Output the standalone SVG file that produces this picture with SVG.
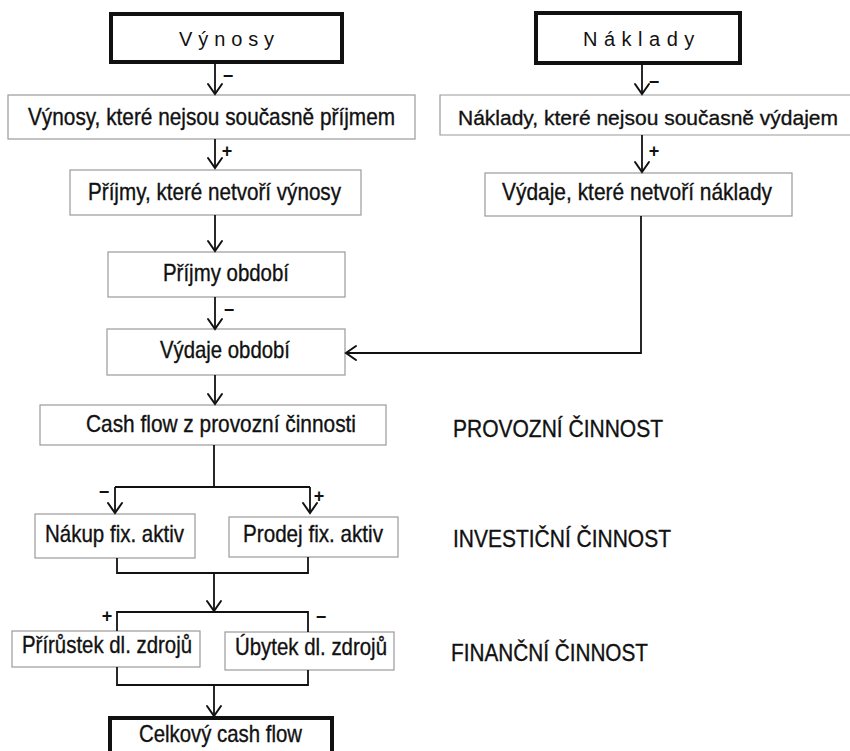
<svg xmlns="http://www.w3.org/2000/svg" width="850" height="751" viewBox="0 0 850 751">
  <defs>
    <style>
      .box { fill: #ffffff; stroke: #9a9a9a; stroke-width: 1.2; }
      .head { fill: #ffffff; stroke: #111111; stroke-width: 4; }
      .lbl { font-family: "Liberation Sans", Arial, sans-serif; font-size: 24px; fill: #111111; stroke: #111111; stroke-width: 0.35; }
      .lbl.edge { font-size: 21px; }
      .spaced { font-family: "Liberation Sans", Arial, sans-serif; font-size: 20px; fill: #111111; }
      .sign { font-family: "Liberation Sans", Arial, sans-serif; font-size: 18px; font-weight: bold; fill: #111111; text-anchor: middle; }
      .wire { fill: none; stroke: #111111; stroke-width: 1.8; }
      .tip { fill: none; stroke: #111111; stroke-width: 2; stroke-linecap: round; stroke-linejoin: miter; }
    </style>
  </defs>
  <rect width="850" height="751" fill="#ffffff"/>

  <!-- left column: revenues -->
  <g id="vynosy">
    <rect class="head" x="111" y="14" width="231" height="48"/>
    <text class="spaced" x="179" y="46" letter-spacing="5.9">Výnosy</text>
  </g>
  <g id="vynosy-neprijem">
    <rect class="box" x="8" y="95" width="407" height="44"/>
    <text class="lbl" x="28" y="125" textLength="367" lengthAdjust="spacingAndGlyphs">Výnosy, které nejsou současně příjmem</text>
  </g>
  <g id="prijmy-nevynosy">
    <rect class="box" x="70" y="170" width="291" height="45"/>
    <text class="lbl" x="88" y="200" textLength="253" lengthAdjust="spacingAndGlyphs">Příjmy, které netvoří výnosy</text>
  </g>
  <g id="prijmy-obdobi">
    <rect class="box" x="108" y="252" width="237" height="45"/>
    <text class="lbl" x="163" y="281" textLength="126" lengthAdjust="spacingAndGlyphs">Příjmy období</text>
  </g>
  <g id="vydaje-obdobi">
    <rect class="box" x="107" y="329" width="238" height="46"/>
    <text class="lbl" x="160" y="358" textLength="130" lengthAdjust="spacingAndGlyphs">Výdaje období</text>
  </g>
  <g id="cf-provozni">
    <rect class="box" x="40" y="405" width="346" height="40"/>
    <text class="lbl" x="86" y="432" textLength="270" lengthAdjust="spacingAndGlyphs">Cash flow z provozní činnosti</text>
  </g>
  <g id="nakup">
    <rect class="box" x="35" y="514" width="160" height="44"/>
    <text class="lbl" x="45" y="542" textLength="139" lengthAdjust="spacingAndGlyphs">Nákup fix. aktiv</text>
  </g>
  <g id="prodej">
    <rect class="box" x="229" y="517" width="169" height="40"/>
    <text class="lbl" x="243" y="542" textLength="140" lengthAdjust="spacingAndGlyphs">Prodej fix. aktiv</text>
  </g>
  <g id="prirustek">
    <rect class="box" x="12" y="631" width="188" height="36"/>
    <text class="lbl" x="22" y="653" textLength="170" lengthAdjust="spacingAndGlyphs">Přírůstek dl. zdrojů</text>
  </g>
  <g id="ubytek">
    <rect class="box" x="225" y="632" width="169" height="38"/>
    <text class="lbl" x="235" y="655" textLength="152" lengthAdjust="spacingAndGlyphs">Úbytek dl. zdrojů</text>
  </g>
  <g id="celkovy">
    <rect class="head" x="110" y="718" width="222" height="40"/>
    <text class="lbl" x="139" y="742" textLength="163" lengthAdjust="spacingAndGlyphs">Celkový cash flow</text>
  </g>

  <!-- right column: costs -->
  <g id="naklady">
    <rect class="head" x="536" y="13" width="204" height="50"/>
    <text class="spaced" x="583" y="46" letter-spacing="6.5">Náklady</text>
  </g>
  <g id="naklady-nevydaj">
    <!-- box runs off the right edge, so only three sides are drawn -->
    <path class="box" d="M850 95 H440 V135 H850"/>
    <text class="lbl edge" x="458" y="125" textLength="380" lengthAdjust="spacingAndGlyphs">Náklady, které nejsou současně výdajem</text>
  </g>
  <g id="vydaje-nenaklady">
    <rect class="box" x="485" y="173" width="307" height="43"/>
    <text class="lbl" x="502" y="200" textLength="270" lengthAdjust="spacingAndGlyphs">Výdaje, které netvoří náklady</text>
  </g>

  <!-- section captions -->
  <g id="sekce">
    <text class="lbl" x="453" y="437" textLength="210" lengthAdjust="spacingAndGlyphs">PROVOZNÍ ČINNOST</text>
    <text class="lbl" x="453" y="547" textLength="218" lengthAdjust="spacingAndGlyphs">INVESTIČNÍ ČINNOST</text>
    <text class="lbl" x="451" y="661" textLength="197" lengthAdjust="spacingAndGlyphs">FINANČNÍ ČINNOST</text>
  </g>

  <!-- connectors -->
  <g id="connectors">
    <!-- left column chain -->
    <path class="wire" d="M215 64 V93"/>
    <path class="tip" d="M208 84 L215 94 L222 84"/>
    <path class="wire" d="M215 139 V167"/>
    <path class="tip" d="M208 158 L215 168 L222 158"/>
    <path class="wire" d="M215 215 V250"/>
    <path class="tip" d="M208 241 L215 251 L222 241"/>
    <path class="wire" d="M215 297 V328"/>
    <path class="tip" d="M208 319 L215 329 L222 319"/>
    <path class="wire" d="M215 375 V403"/>
    <path class="tip" d="M208 394 L215 404 L222 394"/>

    <!-- right column chain -->
    <path class="wire" d="M642 65 V93"/>
    <path class="tip" d="M635 84 L642 94 L649 84"/>
    <path class="wire" d="M642 135 V171"/>
    <path class="tip" d="M635 162 L642 172 L649 162"/>
    <path class="wire" d="M641 216 V353 H347"/>
    <path class="tip" d="M356 346 L346 353 L356 360"/>

    <!-- operating cash flow splits into investment -->
    <path class="wire" d="M214 445 V487 M115 487 H310 M115 487 V512 M310 487 V512"/>
    <path class="tip" d="M108 503 L115 513 L122 503"/>
    <path class="tip" d="M303 503 L310 513 L317 503"/>

    <!-- investment merges, flows into financing -->
    <path class="wire" d="M117 558 V573 H308 V557 M214 573 V610"/>
    <path class="tip" d="M207 601 L214 611 L221 601"/>
    <path class="wire" d="M117 631 V612 H308 V632"/>

    <!-- financing merges into total -->
    <path class="wire" d="M117 667 V685 H308 V670 M214 685 V715"/>
    <path class="tip" d="M207 706 L214 716 L221 706"/>

    <!-- signs -->
    <text class="sign" x="228" y="82">−</text>
    <text class="sign" x="227" y="157">+</text>
    <text class="sign" x="229" y="316">−</text>
    <text class="sign" x="654" y="88">−</text>
    <text class="sign" x="654" y="157">+</text>
    <text class="sign" x="104" y="498">−</text>
    <text class="sign" x="319" y="502">+</text>
    <text class="sign" x="107" y="622">+</text>
    <text class="sign" x="321" y="623">−</text>
  </g>
</svg>
